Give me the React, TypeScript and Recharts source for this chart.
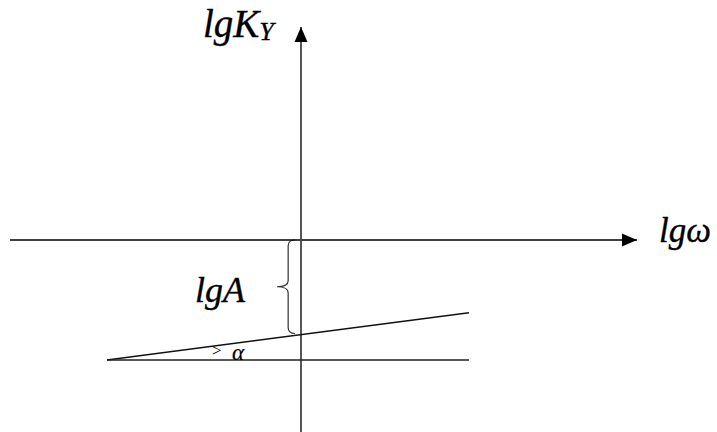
import React from 'react';
import { ComposedChart, Line, XAxis, YAxis, ReferenceArea, ReferenceDot } from 'recharts';

// Schematic data (abstract units; vertical axis at x = 0, horizontal axis at y = 0)
const horizontalAxis = [
  { x: -29.1, y: 0 },
  { x: 33.6, y: 0 },
];
const verticalAxis = [
  { x: 0, y: -20 },
  { x: 0, y: 21.3 },
];
const slopedLine = [
  { x: -19.4, y: -12.0 },
  { x: 16.8, y: -7.27 },
];
const baseLine = [
  { x: -19.4, y: -12.0 },
  { x: 16.8, y: -12.0 },
];
const interceptLgA = -9.35;
const labels = {
  yAxis: 'lgK',
  ySub: 'Y',
  xAxis: 'lgω',
  intercept: 'lgA',
  angle: 'α',
};

const W = 717;
const H = 432;
const FONT = '"Liberation Serif", "Times New Roman", serif';

const arrowRight = (props: any) => {
  const { cx, cy, index } = props;
  if (index !== horizontalAxis.length - 1) return <g key={`hr-${index}`} />;
  return (
    <path key={`hr-${index}`} d={`M${cx},${cy} L${cx - 15},${cy - 6.5} L${cx - 15},${cy + 6.5} Z`} fill="#000" stroke="none" />
  );
};
const arrowUp = (props: any) => {
  const { cx, cy, index } = props;
  if (index !== verticalAxis.length - 1) return <g key={`vu-${index}`} />;
  return (
    <path key={`vu-${index}`} d={`M${cx},${cy} L${cx - 6.5},${cy + 15} L${cx + 6.5},${cy + 15} Z`} fill="#000" stroke="none" />
  );
};

const Brace = (props: any) => {
  const { x, y, width, height } = props;
  const bx = x + width * 0.62;
  const mid = y + height / 2;
  const r = 6;
  const d = [
    `M${x + width},${y}`,
    `Q${bx},${y} ${bx},${y + r}`,
    `L${bx},${mid - r}`,
    `Q${bx},${mid} ${x},${mid}`,
    `Q${bx},${mid} ${bx},${mid + r}`,
    `L${bx},${y + height - r}`,
    `Q${bx},${y + height} ${x + width},${y + height}`,
  ].join(' ');
  return <path d={d} fill="none" stroke="#333" strokeWidth={1.2} />;
};

const textStyle = { fontFamily: FONT, fontStyle: 'italic' as const, fill: '#000', stroke: '#000', strokeWidth: 0.35 };

export default function App() {
  return (
    <div style={{ position: 'fixed', left: 0, top: 0, width: W, height: H, background: '#fff' }}>
      <ComposedChart width={W} height={H} margin={{ top: 0, right: 0, bottom: 0, left: 0 }}>
        <XAxis type="number" dataKey="x" domain={[-30.1, 41.6]} allowDataOverflow hide />
        <YAxis type="number" dataKey="y" domain={[-19.2, 24]} allowDataOverflow hide />
        <ReferenceArea
          x1={-2.4}
          x2={-0.6}
          y1={interceptLgA}
          y2={0}
          shape={<Brace />}
          ifOverflow="visible"
        />
        <Line data={horizontalAxis} dataKey="y" stroke="#000" strokeWidth={1.6} dot={arrowRight} activeDot={false} isAnimationActive={false} />
        <Line data={verticalAxis} dataKey="y" stroke="#444" strokeWidth={1.8} dot={arrowUp} activeDot={false} isAnimationActive={false} />
        <Line data={slopedLine} dataKey="y" stroke="#111" strokeWidth={1.5} dot={false} activeDot={false} isAnimationActive={false} />
        <Line data={baseLine} dataKey="y" stroke="#222" strokeWidth={1.5} dot={false} activeDot={false} isAnimationActive={false} />
        <ReferenceDot
          x={-9.8}
          y={20.3}
          ifOverflow="visible"
          shape={(p: any) => (
            <text x={p.cx} y={p.cy} {...textStyle} fontSize={39}>
              {labels.yAxis}
              <tspan fontSize={26} dy={3}>{labels.ySub}</tspan>
            </text>
          )}
        />
        <ReferenceDot
          x={35.8}
          y={-0.2}
          ifOverflow="visible"
          shape={(p: any) => (
            <text x={p.cx} y={p.cy} {...textStyle} fontSize={35}>
              {labels.xAxis}
            </text>
          )}
        />
        <ReferenceDot
          x={-10.6}
          y={-6.2}
          ifOverflow="visible"
          shape={(p: any) => (
            <text x={p.cx} y={p.cy} {...textStyle} fontSize={36}>
              {labels.intercept}
            </text>
          )}
        />
        <ReferenceDot
          x={-8.9}
          y={-11.5}
          ifOverflow="visible"
          shape={(p: any) => (
            <g>
              <text x={p.cx} y={p.cy + 1} fontFamily={FONT} fontSize={17} fill="#000">{'>'}</text>
              <text x={p.cx + 20} y={p.cy + 5} {...textStyle} strokeWidth={0.2} fontSize={23}>
                {labels.angle}
              </text>
            </g>
          )}
        />
      </ComposedChart>
    </div>
  );
}
